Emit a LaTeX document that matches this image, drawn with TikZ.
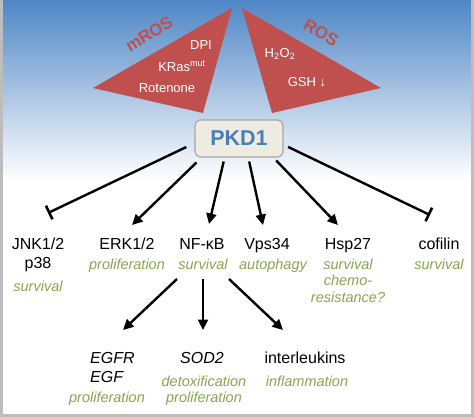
\documentclass[tikz,border=0pt]{standalone}
\usepackage{fontspec}
\setmainfont{Liberation Sans}
\usetikzlibrary{arrows.meta,positioning}
\definecolor{skyblue}{HTML}{4F86C6}
\definecolor{rosred}{HTML}{C0504D}
\definecolor{fngreen}{HTML}{8AA54F}
\definecolor{pkdblue}{HTML}{4A7EBB}
\definecolor{pkdfill}{HTML}{EEECE1}
\definecolor{framegray}{HTML}{BDBDBD}
\newcommand{\lines}[2][c]{\begin{tabular}[t]{@{}#1@{}}#2\end{tabular}}

\tikzset{
  gene/.style={font=\fontsize{16}{19}\selectfont,inner sep=0pt,anchor=base},
  func/.style={font=\fontsize{14.5}{16.5}\selectfont\itshape,text=fngreen,inner sep=0pt,anchor=base},
  inside/.style={font=\fontsize{13}{15}\selectfont,text=white,inner sep=0pt},
  roslabel/.style={font=\bfseries\fontsize{17}{19}\selectfont,text=rosred,inner sep=0pt},
  act/.style={line width=2.4pt,-{Triangle[length=10.5pt,width=10pt]}},
  inhib/.style={line width=2.4pt,-{Bar[width=15pt,line width=2.6pt]}},
}

\begin{document}
\begin{tikzpicture}[x=1pt,y=-1pt]
  \useasboundingbox (0,0) rectangle (474,417);
  % Background
  \fill[white] (0,0) rectangle (474,417);
  \shade[top color=skyblue,bottom color=white] (0,0) rectangle (474,180);
  \draw[framegray,line width=3pt] (1.5,0) -- (1.5,415.5) -- (472.5,415.5) -- (472.5,0);
  % Triggers
  \fill[rosred] (93,88) -- (232,8) -- (203,113) -- cycle;
  \fill[rosred] (242,8) -- (381,88) -- (272,113) -- cycle;
  \node[roslabel,rotate=32] (mros) at (149,34) {mROS};
  \node[roslabel,rotate=-30] (ros) at (321,33) {ROS};
  \node[inside] (dpi) at (201,45) {DPI};
  \node[inside] (kras) at (182,66) {KRas\textsuperscript{mut}};
  \node[inside] (rot) at (167,88) {Rotenone};
  \node[inside] (hoo) at (280,54) {H\textsubscript{2}O\textsubscript{2}};
  \node[inside] (gsh) at (307,82) {GSH ↓};
  % Kinase
  \node[draw=gray!70,fill=pkdfill,rounded corners=6pt,line width=1.2pt,
        minimum width=88pt,minimum height=37pt,text=pkdblue,
        font=\bfseries\fontsize{21.5}{24}\selectfont] (pkd) at (239,138.5) {PKD1};
  % Targets
  \node[gene] (jnk) at (38,249) {\lines{JNK1/2\\p38}};
  \node[gene] (erk) at (127,249) {ERK1/2};
  \node[gene] (nfkb) at (202,249) {NF-κB};
  \node[gene] (vps) at (267,249) {Vps34};
  \node[gene] (hsp) at (348,249) {Hsp27};
  \node[gene] (cof) at (439,249) {cofilin};
  \node[func] (jnkfn) at (38,291) {survival};
  \node[func] (erkfn) at (127,269) {proliferation};
  \node[func] (nfkbfn) at (203,269) {survival};
  \node[func] (vpsfn) at (273,269) {autophagy};
  \node[func] (hspfn) at (348,269) {\lines{survival\\chemo-\\resistance?}};
  \node[func] (coffn) at (439,269) {survival};
  % NF-kB targets
  \node[gene,anchor=base west,font=\fontsize{16}{19}\selectfont\itshape] (egfr) at (90,363) {\lines[l]{EGFR\\EGF}};
  \node[gene,font=\fontsize{16}{19}\selectfont\itshape] (sod) at (202,363) {SOD2};
  \node[gene] (il) at (305,363) {interleukins};
  \node[func] (egfrfn) at (107,402) {proliferation};
  \node[func] (sodfn) at (204,386) {\lines{detoxification\\proliferation}};
  \node[func] (ilfn) at (307,386) {inflammation};
  % Connectors
  \draw[inhib,shorten <=9pt] (pkd.186) -- ([shift={(10,-36)}]jnk.base);
  \draw[act,shorten <=7pt] (pkd.207) -- ([shift={(5,-24)}]erk.base);
  \draw[act,shorten <=4pt] (pkd.233) -- ([shift={(7,-25)}]nfkb.base);
  \draw[act,shorten <=4pt] (pkd.296) -- ([shift={(-4,-24)}]vps.base);
  \draw[act,shorten <=4pt] (pkd.331) -- ([shift={(-10,-24)}]hsp.base);
  \draw[inhib,shorten <=5pt] (pkd.352) -- ([shift={(-9,-34)}]cof.base);
  \draw[act] ([shift={(-26,10)}]nfkbfn.base) -- ([shift={(33,-33)}]egfr.base west);
  \draw[act] ([shift={(0,10)}]nfkbfn.base) -- ([shift={(1,-33)}]sod.base);
  \draw[act] ([shift={(26,10)}]nfkbfn.base) -- ([shift={(-22,-33)}]il.base);
\end{tikzpicture}
\end{document}
